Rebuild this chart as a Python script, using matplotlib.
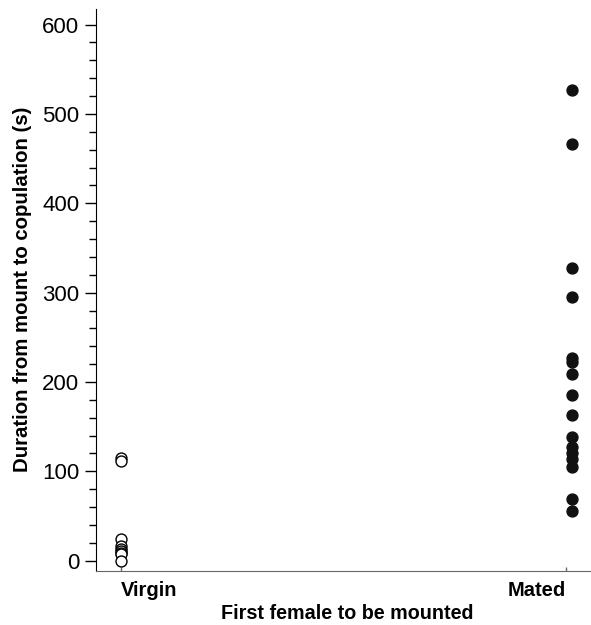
import matplotlib
matplotlib.use("Agg")
import matplotlib.pyplot as plt
from matplotlib.ticker import MultipleLocator

plt.rcParams['font.family'] = ['Liberation Sans', 'DejaVu Sans']

categories = ["Virgin", "Mated"]
virgin_values = [115, 112, 24, 17, 13, 11, 9, 8, 0]
mated_values = [527, 466, 328, 295, 227, 222, 209, 185, 163, 139, 127, 120, 114, 105, 69, 56]
yticks = [0, 100, 200, 300, 400, 500, 600]

fig = plt.figure(figsize=(5.91, 6.25), dpi=100)
ax = fig.add_axes([0.1624, 0.0864, 0.849, 0.9])

ax.scatter([1] * len(virgin_values), virgin_values, s=62, facecolors='white',
           edgecolors='black', linewidths=1.0, zorder=3, clip_on=False)
ax.scatter([2] * len(mated_values), mated_values, s=62, facecolors='#111111',
           edgecolors='#111111', linewidths=1.0, zorder=3, clip_on=False)

ax.set_xlim(0.9446, 2.058)
ax.set_ylim(-11.5, 618)

ax.set_yticks(yticks)
ax.yaxis.set_minor_locator(MultipleLocator(20))
ax.tick_params(axis='y', which='major', length=8, width=1, labelsize=16, pad=4, direction='out')
ax.tick_params(axis='y', which='minor', length=5, width=1, direction='out')

ax.set_xticks([1, 1.987])
ax.set_xticklabels(categories, fontweight='bold', fontsize=14.5)
ax.tick_params(axis='x', length=3, width=1, direction='in', pad=7, color='#666666')
labs = ax.get_xticklabels()
labs[0].set_ha('left')
labs[1].set_ha('right')

for s in ['top', 'right']:
    ax.spines[s].set_visible(False)
ax.spines['left'].set_color('black')
ax.spines['bottom'].set_color('#666666')

ax.set_ylabel("Duration from mount to copulation (s)", fontweight='bold', fontsize=14.7, labelpad=7)
ax.set_xlabel("First female to be mounted", fontweight='bold', fontsize=14.2, labelpad=3)

fig.savefig("out.png", dpi=100)
